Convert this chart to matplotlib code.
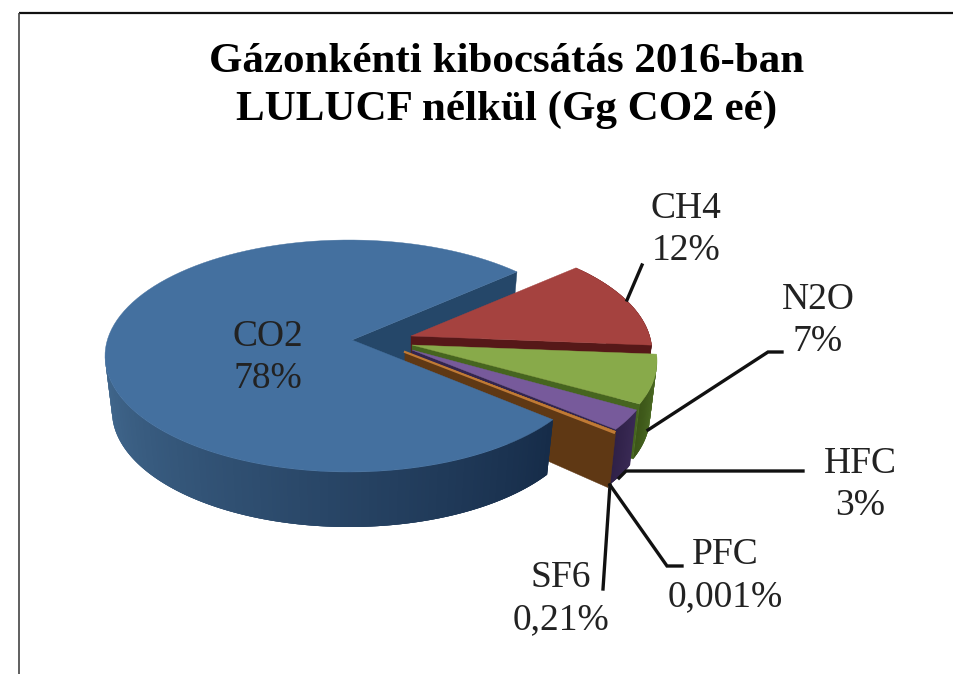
import numpy as np
import matplotlib
matplotlib.use("Agg")
import matplotlib.pyplot as plt
from matplotlib.colors import to_rgb

# --- data ---
title = "Gázonkénti kibocsátás 2016-ban\nLULUCF nélkül (Gg CO2 eé)"
gases = ["CO2", "CH4", "N2O", "HFC", "PFC", "SF6"]
shares = [78, 12, 7, 3, 0.001, 0.21]
share_labels = ["78%", "12%", "7%", "3%", "0,001%", "0,21%"]

# --- style / projection ---
W, H = 954, 674
START = 46.5
CX, CY, RX, RY = 349, 356, 244, 116
RX_B, DEPTH, APEX_DEPTH = 237, 55, 46
offset = [(0, 0), (59, -4), (64, 5), (61, 11), (61, 13), (61, 13)]
apex_off = [(3, -16), (3, -16), (-1, -16), (2, -17), (-5, -17), (-5, -17)]
top_col = ["#44709f", "#a5423f", "#88aa4a", "#775a9b", "#8a5a28", "#c07a35"]
side_col = [("#42698f", "#162c49"), ("#5c1a1a", "#5c1a1a"), ("#54752a", "#3c5618"),
            ("#3a2a55", "#2f2148"), ("#5f3814", "#5f3814"), ("#5f3814", "#5f3814")]
wall_col = ["#254769", "#561818", "#46651f", "#33254f", "#5f3814", "#5f3814"]
label_pos = [(268, 358), (686, 230), (818, 321), (860, 485), (725, 576), (561, 599)]
leaders = [None,
           [(627, 300), (642, 265)],
           [(648, 430), (768, 352), (782, 352)],
           [(619, 478), (626, 471), (803, 471)],
           [(610, 485), (667, 566), (682, 566)],
           [(610, 485), (603, 589)]]

plt.rcParams["font.family"] = ["Liberation Serif", "DejaVu Serif"]
fig = plt.figure(figsize=(W / 100, H / 100), dpi=100, facecolor="white")
ax = fig.add_axes([0, 0, 1, 1])
ax.set_xlim(0, W)
ax.set_ylim(H, 0)
ax.axis("off")

# wedge angles from the values: CO2 runs counter-clockwise from START,
# the others clockwise from START
frac = np.array(shares, dtype=float) / np.sum(shares) * 360
ends = START - np.cumsum(np.r_[0, frac[1:]])
ang = [(START, START + frac[0])]
for i in range(1, len(shares)):
    ang.append((ends[i - 1], ends[i]))


def top_pt(t, i):
    t = np.radians(t)
    dx, dy = offset[i]
    return CX + dx + RX * np.cos(t), CY + dy - RY * np.sin(t)


def bot_pt(t, i):
    t = np.radians(t)
    dx, dy = offset[i]
    return CX + dx + RX_B * np.cos(t), CY + dy + DEPTH - RY * np.sin(t)


def apex(i):
    return CX + offset[i][0] + apex_off[i][0], CY + offset[i][1] + apex_off[i][1]


def apex_b(i):
    x, y = apex(i)
    return x, y + APEX_DEPTH


def draw_side(i, t0, t1, n=60):
    c0, c1 = np.array(to_rgb(side_col[i][0])), np.array(to_rgb(side_col[i][1]))
    ts = np.linspace(t0, t1, n + 1)
    step = ts[1] - ts[0]
    for k in range(n):
        a, b = ts[k], min(ts[k + 1] + 2 * step, t1) if step > 0 else max(ts[k + 1] + 2 * step, t1)
        arc = np.linspace(a, b, 5)
        xt, yt = top_pt(arc, i)
        xb, yb = bot_pt(arc[::-1], i)
        c = c0 + (c1 - c0) * (k / max(n - 1, 1))
        ax.fill(np.r_[xt, xb], np.r_[yt, yb], color=c, lw=0)


def draw_top(i, t0, t1):
    ts = np.linspace(t0, t1, 120)
    xs, ys = top_pt(ts, i)
    ax.fill(np.r_[apex(i)[0], xs], np.r_[apex(i)[1], ys], color=top_col[i], lw=0.3)


def draw_wall(i, t):
    p = [apex(i), top_pt(t, i), bot_pt(t, i), apex_b(i)]
    ax.fill(*zip(*p), color=wall_col[i], lw=0.3)


# frame
ax.plot([19, W], [13, 13], color="#111111", lw=1.6, solid_capstyle="butt")
ax.plot([19, 19], [13, H], color="#444444", lw=1.2, solid_capstyle="butt")

# back to front
draw_wall(0, ang[0][0])          # CO2's inner wall

for i in (1, 2, 3):              # CH4, N2O, HFC
    t0, t1 = ang[i]
    draw_side(i, t0, t1, 30)
    draw_wall(i, t1)
    draw_top(i, t0, t1)

# PFC and SF6 slivers
for i in (4, 5):
    t0, t1 = ang[i]
    draw_wall(i, t1)
    draw_top(i, t0, t1)
ax.plot(*zip(apex(5), top_pt(ang[5][1], 5)), color=top_col[5], lw=1.6)

# CO2 rim + top
draw_side(0, 180, ang[0][1], 150)
draw_top(0, ang[0][0], ang[0][1])

# leaders
for seg in leaders:
    if seg:
        ax.plot(*zip(*seg), color="#111111", lw=2.4, solid_joinstyle="miter")

# labels
for g, s, (x, y) in zip(gases, share_labels, label_pos):
    ax.text(x, y, f"{g}\n{s}", ha="center", va="center", ma="center",
            fontsize=27, color="#222222", linespacing=1.28)

ax.text(507, 86, title, ha="center", va="center", ma="center",
        fontsize=31, fontweight="bold", color="black", linespacing=1.3)

fig.savefig("out.png", dpi=100)
